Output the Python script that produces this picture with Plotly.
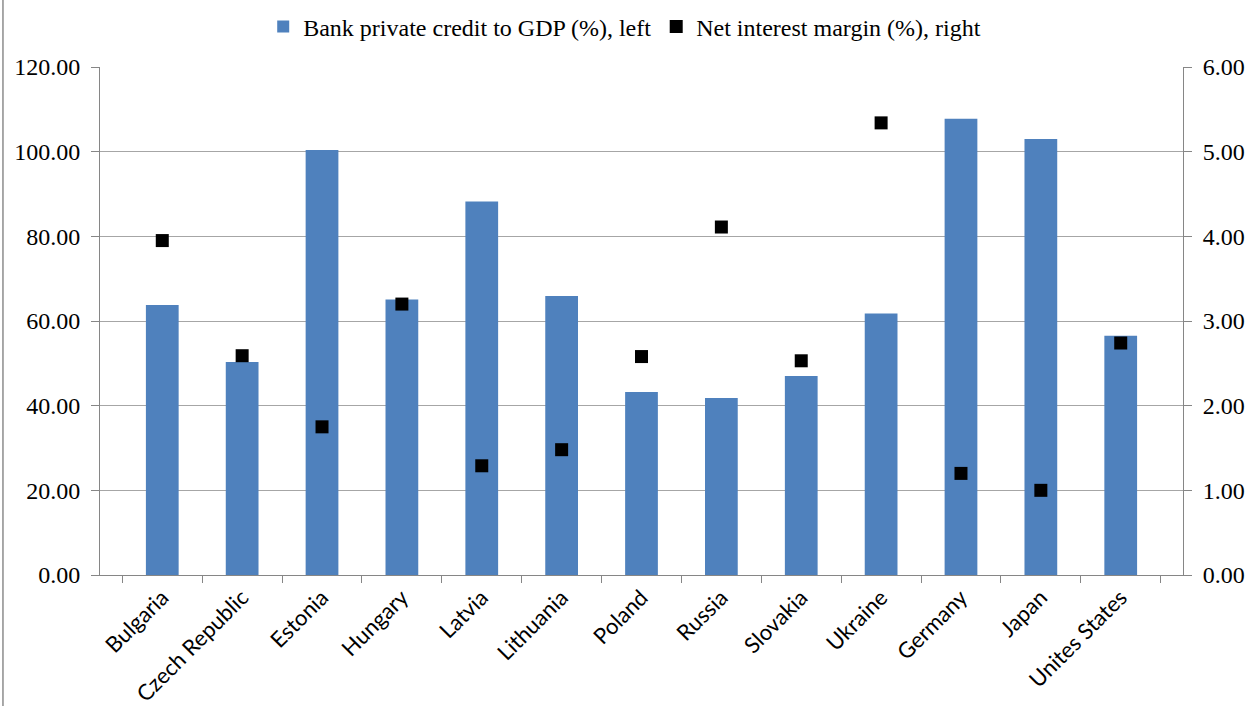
import plotly.graph_objects as go

countries = ["Bulgaria", "Czech Republic", "Estonia", "Hungary", "Latvia", "Lithuania",
             "Poland", "Russia", "Slovakia", "Ukraine", "Germany", "Japan", "Unites States"]
credit_gdp = [63.8, 50.3, 100.4, 65.1, 88.2, 65.9, 43.2, 41.8, 47.0, 61.8, 107.8, 103.0, 56.5]
net_margin = [3.95, 2.59, 1.75, 3.20, 1.29, 1.48, 2.58, 4.11, 2.53, 5.34, 1.20, 1.00, 2.74]

serif = "Liberation Serif"
sans = "Lato"
grid = "#a6a6a6"
axis = "#868686"

fig = go.Figure()
fig.add_trace(go.Bar(
    x=countries, y=credit_gdp, name="Bank private credit to GDP (%), left",
    marker=dict(color="#4F81BD", line=dict(width=0)), yaxis="y"))
fig.add_trace(go.Scatter(
    x=countries, y=net_margin, name="Net interest margin (%), right", mode="markers",
    marker=dict(symbol="square", size=13, color="black"), yaxis="y2"))

fig.update_layout(
    width=1247, height=706,
    margin=dict(l=100, r=64, t=67, b=131, autoexpand=False),
    paper_bgcolor="white", plot_bgcolor="white",
    bargap=0.59,
    showlegend=True,
    legend=dict(orientation="h", x=0.4845, xanchor="center", y=1.079, yanchor="middle",
                font=dict(family=serif, size=24, color="black"),
                itemwidth=30, traceorder="normal"),
    xaxis=dict(type="category", showline=True, linecolor=axis, linewidth=1,
               ticks="outside", tickson="boundaries", ticklen=7, tickcolor=axis,
               tickangle=-45, tickfont=dict(family=sans, size=22, color="black"),
               showgrid=False, automargin=False),
    yaxis=dict(range=[0, 120], dtick=20, tickformat=".2f", showline=True,
               linecolor=axis, linewidth=1, ticks="outside", ticklen=8, tickcolor=axis,
               ticklabelstandoff=6, automargin=False,
               showgrid=True, gridcolor=grid, gridwidth=1, zeroline=False,
               tickfont=dict(family=serif, size=24, color="black")),
    yaxis2=dict(range=[0, 6], dtick=1, tickformat=".2f", overlaying="y", side="right",
                showline=True, linecolor=axis, linewidth=1, ticks="outside", ticklen=8,
                tickcolor=axis, ticklabelstandoff=6, showgrid=False, zeroline=False,
                automargin=False,
                tickfont=dict(family=serif, size=24, color="black")),
    shapes=[dict(type="line", xref="paper", yref="paper", x0=-0.0896, x1=-0.0896,
                 y0=-0.3, y1=1.2, line=dict(color="#8c8c8c", width=1.5))],
)

fig.write_html("out.html")
